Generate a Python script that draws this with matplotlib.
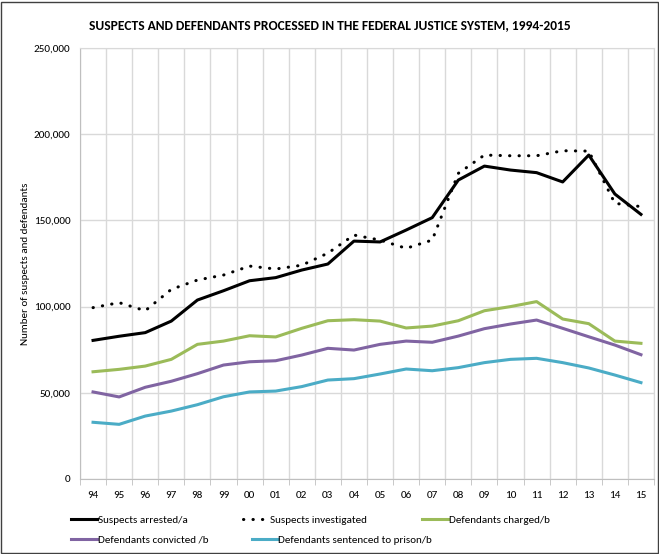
import matplotlib.pyplot as plt
from matplotlib.patches import Rectangle

plt.rcParams['font.family'] = ['Carlito', 'DejaVu Sans']

years = ['94', '95', '96', '97', '98', '99', '00', '01', '02', '03', '04',
         '05', '06', '07', '08', '09', '10', '11', '12', '13', '14', '15']

arrested = [80400, 82800, 84900, 91600, 103800, 109200, 115000, 116800, 121200, 124700, 138000,
            137500, 144400, 151600, 173400, 181500, 179200, 177700, 172300, 187900, 165300, 153500]
investigated = [99400, 102300, 97600, 110000, 115400, 118300, 123500, 121800, 124000, 131000, 141500,
                138600, 133800, 138600, 177300, 187900, 187500, 187500, 190400, 190200, 159900, 158000]
charged = [62200, 63600, 65500, 69400, 78100, 80000, 83100, 82400, 87400, 91800, 92400,
           91600, 87600, 88700, 91800, 97600, 100000, 102900, 92800, 90100, 80000, 78700]
convicted = [50500, 47600, 53200, 56700, 61100, 66100, 68000, 68600, 71900, 75800, 74800,
             78100, 80000, 79300, 82900, 87200, 89900, 92200, 87400, 82500, 77700, 72100]
prison = [32900, 31700, 36500, 39400, 43100, 47700, 50500, 51000, 53600, 57400, 58200,
          60900, 63800, 62800, 64600, 67500, 69400, 70000, 67500, 64400, 60300, 55900]

fig = plt.figure(figsize=(6.59, 5.54), dpi=100)
ax = fig.add_axes([80/659, 75/554, 574/659, 431/554])

x = list(range(len(years)))
l1, = ax.plot(x, arrested, color='black', lw=2.2, label='Suspects arrested/a')
l2, = ax.plot(x, investigated, color='black', lw=2.2, ls=(0, (0.1, 3)), dash_capstyle='round',
              label='Suspects investigated')
l3, = ax.plot(x, charged, color='#9BBB59', lw=2.2, label='Defendants charged/b')
l4, = ax.plot(x, convicted, color='#8064A2', lw=2.2, label='Defendants convicted /b')
l5, = ax.plot(x, prison, color='#4BACC6', lw=2.2, label='Defendants sentenced to prison/b')

ax.set_xlim(-0.5, len(years) - 0.5)
ax.set_ylim(0, 250000)
ax.set_yticks(range(0, 250001, 50000))
ax.set_yticklabels(['{:,}'.format(v) for v in range(0, 250001, 50000)])
ax.set_xticks(x)
ax.set_xticklabels(years)
ax.set_xticks([i - 0.5 for i in range(len(years) + 1)], minor=True)
ax.tick_params(axis='x', which='major', length=0, labelsize=8, pad=9)
ax.tick_params(axis='x', which='minor', length=4, color='#bfbfbf')
ax.tick_params(axis='y', length=0, labelsize=8, pad=7)
ax.grid(True, which='minor', axis='x', color='#d9d9d9', lw=1)
ax.grid(True, which='major', axis='y', color='#d9d9d9', lw=1)
for s in ['top', 'right']:
    ax.spines[s].set_color('#d9d9d9')
for s in ['left', 'bottom']:
    ax.spines[s].set_color('#bfbfbf')
ax.set_axisbelow(True)
ax.set_ylabel('Number of suspects and defendants', fontsize=8)
ax.yaxis.set_label_coords(-50/574, 0.5)

fig.text(0.5, 1 - 25/554, 'SUSPECTS AND DEFENDANTS PROCESSED IN THE FEDERAL JUSTICE SYSTEM, 1994-2015',
         ha='center', va='center', fontsize=9.7, fontweight='bold')

fig.legend(handles=[l1, l2, l3], loc='center left', bbox_to_anchor=(71/659, 1 - 520/554),
           ncol=3, frameon=False, fontsize=8, handlelength=2.35, handletextpad=0.05,
           columnspacing=5.0, borderpad=0, borderaxespad=0)
fig.legend(handles=[l4, l5], loc='center left', bbox_to_anchor=(71/659, 1 - 540/554),
           ncol=2, frameon=False, fontsize=8, handlelength=2.35, handletextpad=0.05,
           columnspacing=3.9, borderpad=0, borderaxespad=0)

fig.patches.append(Rectangle((0.002, 0.002), 0.996, 0.994, transform=fig.transFigure,
                             fill=False, edgecolor='#404040', lw=1))

fig.savefig('out.png', dpi=100)
